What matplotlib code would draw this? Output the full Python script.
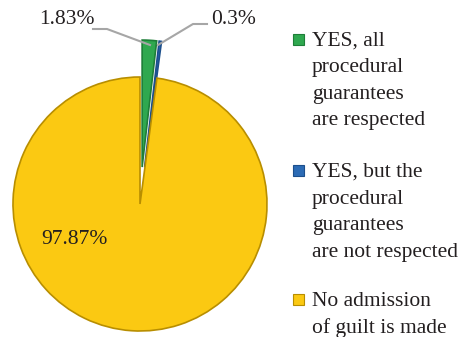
import matplotlib
matplotlib.use("Agg")
import matplotlib.pyplot as plt
from matplotlib.patches import Rectangle

categories = ["YES, all\nprocedural\nguarantees\nare respected",
              "YES, but the\nprocedural\nguarantees\nare not respected",
              "No admission\nof guilt is made"]
values = [1.83, 0.3, 97.87]
labels = ["1.83%", "0.3%", "97.87%"]
colors = ["#2FA84F", "#2C6BB5", "#FBC912"]
edge_colors = ["#1E7E38", "#1C4F8C", "#B88E00"]

W, H = 476, 337
fig = plt.figure(figsize=(W / 100, H / 100), dpi=100)
ax = fig.add_axes([0, 0, 1, 1])

FONT = "Liberation Serif"
cx, cy, r = 140, H - 204, 127
explode_px = 37
wedges, _ = ax.pie(values, colors=colors, startangle=90, counterclock=False,
                   explode=[explode_px, explode_px, 0], center=(cx, cy), radius=r,
                   wedgeprops=dict(linewidth=1.2), frame=True)
for w, ec in zip(wedges, edge_colors):
    w.set_edgecolor(ec)
ax.set_xlim(0, W)
ax.set_ylim(0, H)
ax.set_aspect("equal")
ax.axis("off")

# leader lines
lc = "#A6A6A6"
ax.plot([93, 107, 150], [H - 29, H - 29, H - 45], color=lc, lw=1.5)
ax.plot([207, 193, 158], [H - 24, H - 24, H - 45], color=lc, lw=1.5)

fs = 15.5
tc = "#231F20"
ax.text(66.5, H - 20, labels[0], fontsize=fs, family=FONT, ha="center", va="center", color=tc)
ax.text(233.5, H - 20, labels[1], fontsize=fs, family=FONT, ha="center", va="center", color=tc)
ax.text(74, H - 240, labels[2], fontsize=fs, family=FONT, ha="center", va="center", color=tc)

# legend
baselines = [45.7, 177, 306]
step = 26.6
for cat, col, ec, y0 in zip(categories, colors, edge_colors, baselines):
    ax.add_patch(Rectangle((293, H - y0 + 1), 11, 11, facecolor=col, edgecolor=ec, lw=0.8))
    for i, line in enumerate(cat.split("\n")):
        ax.text(312, H - y0 - i * step, line, fontsize=fs, family=FONT,
                ha="left", va="baseline", color=tc)

fig.savefig("out.png", dpi=100)
